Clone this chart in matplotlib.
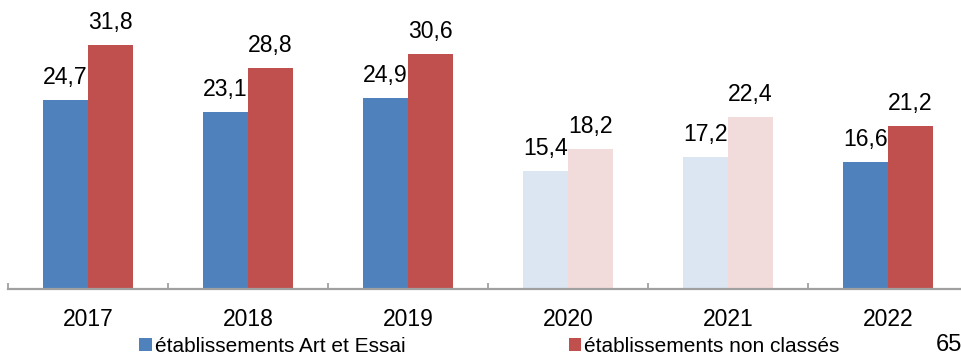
import matplotlib
matplotlib.use("Agg")
import matplotlib.pyplot as plt
from matplotlib.patches import Patch
import numpy as np

plt.rcParams['font.family'] = ['Liberation Sans', 'DejaVu Sans']

years = ["2017", "2018", "2019", "2020", "2021", "2022"]
art_essai = [24.7, 23.1, 24.9, 15.4, 17.2, 16.6]
non_classes = [31.8, 28.8, 30.6, 18.2, 22.4, 21.2]
series_names = ["établissements Art et Essai", "établissements non classés"]
faded_years = ["2020", "2021"]
page_number = "65"

BLUE, RED = "#4F81BD", "#C0504D"
BLUE_PALE, RED_PALE = "#DCE6F2", "#F2DCDB"

W, H, DPI = 961, 355, 100
fig = plt.figure(figsize=(W / DPI, H / DPI), dpi=DPI)
ax = fig.add_axes([8 / W, 66 / H, (W - 8) / W, 289 / H])

x = np.arange(len(years))
bw = 45 / 160
blue_cols = [BLUE_PALE if y in faded_years else BLUE for y in years]
red_cols = [RED_PALE if y in faded_years else RED for y in years]

b1 = ax.bar(x - bw / 2, art_essai, bw, color=blue_cols, linewidth=0)
b2 = ax.bar(x + bw / 2, non_classes, bw, color=red_cols, linewidth=0)

def fmt(v):
    return f"{v:.1f}".replace(".", ",")

for bars, vals in ((b1, art_essai), (b2, non_classes)):
    for rect, v in zip(bars, vals):
        ax.annotate(fmt(v), (rect.get_x() + rect.get_width() / 2, v),
                    xytext=(0, 11.5), textcoords="offset points",
                    ha="center", va="baseline", fontsize=16.6, color="black")

# category ticks (labels only) and separator ticks between groups
ax.set_xticks(x)
ax.set_xticklabels(years, fontsize=16.5)
ax.tick_params(axis="x", which="major", length=0, pad=14)
ax.set_xticks(np.arange(-0.5, len(years) - 1, 1.0), minor=True)
ax.tick_params(axis="x", which="minor", direction="in", length=4.3,
               width=1.3, color="#A0A0A0")

ax.set_xlim(-0.5, -0.5 + (W - 8) / 160)
ax.set_ylim(0, 289 / 7.67)

for side in ("top", "right", "left"):
    ax.spines[side].set_visible(False)
ax.spines["bottom"].set_color("#A0A0A0")
ax.spines["bottom"].set_linewidth(1.6)
ax.set_yticks([])

handles = [Patch(facecolor=BLUE, edgecolor="none"),
           Patch(facecolor=RED, edgecolor="none")]
fig.legend(handles, series_names, loc="center left",
           bbox_to_anchor=(139 / W, 1 - 346 / H), ncol=2, frameon=False,
           fontsize=15, handlelength=0.6, handleheight=0.6,
           handletextpad=0.15, columnspacing=7.85, borderpad=0,
           borderaxespad=0)

fig.text(936 / W, 1 - 345 / H, page_number, fontsize=17, va="center",
         ha="left", color="black")

fig.savefig("out.png", dpi=DPI)
